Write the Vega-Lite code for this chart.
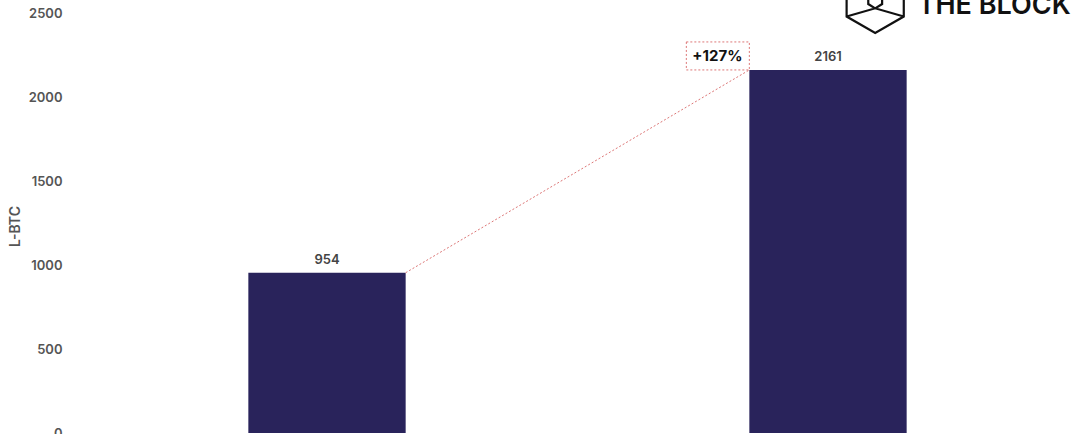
{
  "$schema": "https://vega.github.io/schema/vega-lite/v6.json",
  "autosize": {"type": "none"},
  "padding": {"left": 75, "top": 13, "right": 0, "bottom": 1},
  "width": 1005,
  "height": 420,
  "background": "white",
  "config": {"view": {"stroke": null}, "font": "Inter"},
  "datasets": {
    "bars": [
      {"period": "Before", "lbtc": 954},
      {"period": "After", "lbtc": 2161}
    ],
    "change": [
      {"from": "Before", "to": "After", "start": 954, "end": 2161, "label": "+127%"}
    ]
  },
  "layer": [
    {
      "data": {"name": "bars"},
      "mark": {"type": "bar", "color": "#29235b"},
      "encoding": {
        "x": {
          "field": "period", "type": "nominal", "sort": null, "axis": null,
          "scale": {"domain": ["Before", "After"], "paddingInner": 0.686, "paddingOuter": 0.346}
        },
        "y": {
          "field": "lbtc", "type": "quantitative",
          "scale": {"domain": [0, 2500], "nice": false},
          "axis": {
            "title": "L-BTC", "values": [0, 500, 1000, 1500, 2000, 2500], "format": "d",
            "domain": false, "ticks": false, "grid": false,
            "labelPadding": 13, "labelFontSize": 13, "labelColor": "#555555", "labelFontWeight": 600, "labelFont": "Inter",
            "titleFontSize": 14, "titleColor": "#555555", "titleFontWeight": 600, "titleFont": "Inter",
            "titleX": -60, "titleY": 213, "titleAngle": 270, "titleAlign": "center", "titleBaseline": "middle"
          }
        }
      }
    },
    {
      "data": {"name": "bars"},
      "mark": {"type": "text", "baseline": "bottom", "dy": -6, "fontSize": 13, "fontWeight": 600, "color": "#444444", "font": "Inter"},
      "encoding": {
        "x": {"field": "period", "type": "nominal", "sort": null},
        "y": {"field": "lbtc", "type": "quantitative"},
        "text": {"field": "lbtc", "type": "quantitative", "format": "d"}
      }
    },
    {
      "data": {"name": "change"},
      "mark": {"type": "rule", "color": "#dd7777", "strokeDash": [2, 2], "strokeWidth": 1},
      "encoding": {
        "x": {"field": "from", "type": "nominal", "bandPosition": 1},
        "x2": {"field": "to", "bandPosition": 0},
        "y": {"field": "start", "type": "quantitative"},
        "y2": {"field": "end"}
      }
    },
    {
      "data": {"name": "change"},
      "mark": {"type": "rect", "fill": null, "fillOpacity": 0, "stroke": "#dd7777", "strokeDash": [2, 2], "strokeWidth": 1, "xOffset": -63, "y2Offset": -28},
      "encoding": {
        "x": {"field": "to", "type": "nominal", "bandPosition": 0},
        "x2": {"field": "to", "bandPosition": 0},
        "y": {"field": "end", "type": "quantitative"},
        "y2": {"field": "end"}
      }
    },
    {
      "data": {"name": "change"},
      "mark": {"type": "text", "baseline": "middle", "align": "center", "dx": -32, "dy": -14, "fontSize": 15, "fontWeight": 700, "color": "#111111", "font": "Inter"},
      "encoding": {
        "x": {"field": "to", "type": "nominal", "bandPosition": 0},
        "y": {"field": "end", "type": "quantitative"},
        "text": {"field": "label"}
      }
    },
    {
      "data": {"values": [{"brand": "THE BLOCK"}]},
      "layer": [
        {
          "mark": {
            "type": "point", "filled": false, "stroke": "#111111", "strokeWidth": 2.2, "size": 4356, "opacity": 1,
            "shape": "M0,-1L0.866,-0.5L0.866,0.5L0,1L-0.866,0.5L-0.866,-0.5ZM-0.866,0.5L0,0.25L0.866,0.5M0,0.25L-0.21,0.12L-0.21,-0.5M0,0.25L0.21,0.12L0.21,-0.5"
          },
          "encoding": {
            "x": {"datum": "After", "bandPosition": 0.8},
            "y": {"datum": 2577}
          }
        },
        {
          "mark": {"type": "text", "align": "left", "baseline": "alphabetic", "fontSize": 27, "fontWeight": 600, "color": "#111111", "font": "Inter"},
          "encoding": {
            "x": {"datum": "After", "bandPosition": 1.07},
            "y": {"datum": 2494},
            "text": {"field": "brand"}
          }
        }
      ]
    }
  ]
}
